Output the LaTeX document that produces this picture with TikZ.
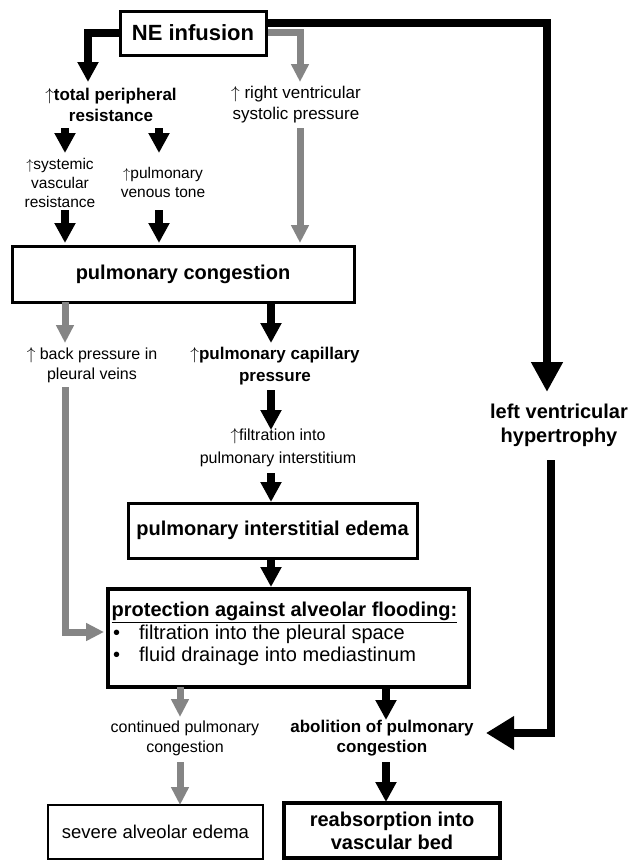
\documentclass[tikz,border=0pt]{standalone}
\usepackage{fontspec}
\setmainfont{Liberation Sans}
\usetikzlibrary{arrows.meta}
\definecolor{arrgray}{gray}{0.52}
\newcommand{\upa}{$\uparrow$}
\begin{document}
\begin{tikzpicture}[x=1pt,y=-1pt,
  box/.style={draw,line width=3pt,inner sep=0pt,align=center},
  lbl/.style={inner sep=0pt,align=center},
  blk/.style={line width=8pt,-{Triangle[width=20pt,length=20pt]}},
  big/.style={line width=8pt,-{Triangle[width=30pt,length=30pt]}},
  gry/.style={arrgray,line width=7pt,-{Triangle[width=17pt,length=18pt]}},
  fbig/.style={font=\fontsize{20}{23}\selectfont\bfseries},
  fmid/.style={font=\fontsize{17}{21}\selectfont\bfseries},
  fmidr/.style={font=\fontsize{17}{21}\selectfont},
  fsmall/.style={font=\fontsize{16}{20}\selectfont},
  ftiny/.style={font=\fontsize{15.5}{19}\selectfont},
]
\fill[white] (0,0) rectangle (640,860);
\useasboundingbox (0,0) rectangle (640,860);

% boxes
\node[box,minimum width=146pt,minimum height=44pt,font=\fontsize{22}{26}\selectfont\bfseries] (ne) at (193,33) {NE infusion};
\node[box,fbig,minimum width=342pt,minimum height=56pt] (cong) at (183,274) {pulmonary congestion};
\node[box,fbig,minimum width=289pt,minimum height=55pt] (edema) at (272.5,530.5) {pulmonary interstitial edema};
\node[box,line width=3.5pt,minimum width=361pt,minimum height=98pt] (prot) at (288.5,638) {};
\node[box,line width=1.5pt,minimum width=215pt,minimum height=54pt,font=\fontsize{18.5}{22}\selectfont] (severe) at (155.5,832) {severe alveolar edema};
\node[box,fbig,line width=4pt,minimum width=216pt,minimum height=55pt] (reab) at (392,830.5) {reabsorption into\\vascular bed};

% labels
\node[lbl,fmid] (tpr) at (111,105) {\upa total peripheral\\resistance};
\node[lbl,fmidr] (rvsp) at (296,105) {\upa\ right ventricular\\systolic pressure};
\node[lbl,ftiny] (svr) at (60,183) {\upa systemic\\vascular\\resistance};
\node[lbl,ftiny] (pvt) at (163,182) {\upa pulmonary\\venous tone};
\node[lbl,fsmall] (bp) at (92,365) {\upa\ back pressure in\\pleural veins};
\node[lbl,font=\fontsize{17}{22}\selectfont\bfseries] (pcp) at (275,366) {\upa pulmonary capillary\\pressure};
\node[lbl,font=\fontsize{16}{23}\selectfont] (filt) at (278,448) {\upa filtration into\\pulmonary interstitium};
\node[lbl,font=\fontsize{20}{24}\selectfont\bfseries] (lvh) at (559,425) {left ventricular\\hypertrophy};
\node[lbl,fbig] (ptitle) at (284.5,612) {\underline{protection against alveolar flooding:}};
\node[lbl,font=\fontsize{20}{23}\selectfont,anchor=west] (pb1) at (113,634) {\makebox[26pt][l]{•}filtration into the pleural space};
\node[lbl,font=\fontsize{20}{23}\selectfont,anchor=west] (pb2) at (113,656) {\makebox[26pt][l]{•}fluid drainage into mediastinum};
\node[lbl,fsmall] (cont) at (185,738) {continued pulmonary\\congestion};
\node[lbl,font=\fontsize{17}{20}\selectfont\bfseries] (abol) at (382,738) {abolition of pulmonary\\congestion};

% connector end points
\coordinate (c1) at (88,82);
\coordinate (c2) at (547,392);
\coordinate (c3) at (300,82);
\coordinate (a1) at (65,128); \coordinate (a2) at (65,153);
\coordinate (a3) at (159,128); \coordinate (a4) at (159,153);
\coordinate (a5) at (65,210); \coordinate (a6) at (65,243);
\coordinate (a7) at (159,210); \coordinate (a8) at (159,243);
\coordinate (a9) at (300,128); \coordinate (a10) at (300,243);
\coordinate (b1) at (65,302); \coordinate (b2) at (65,343);
\coordinate (b3) at (271,302); \coordinate (b4) at (271,343);
\coordinate (b5) at (271,390); \coordinate (b6) at (271,430);
\coordinate (b7) at (271,473); \coordinate (b8) at (271,502);
\coordinate (b9) at (271,558); \coordinate (b10) at (271,587);
\coordinate (g1) at (65,387); \coordinate (g2) at (104,632);
\coordinate (r1) at (551,460); \coordinate (r2) at (486,733);
\coordinate (d1) at (180,687); \coordinate (d2) at (180,717);
\coordinate (d3) at (386,687); \coordinate (d4) at (386,720);
\coordinate (d5) at (180,762); \coordinate (d6) at (180,805);
\coordinate (d7) at (386,762); \coordinate (d8) at (386,802);

% connectors
\draw[blk] (ne.west) -| (c1);
\draw[big] ([yshift=10pt]ne.east) -| (c2);
\draw[gry] ([yshift=0.5pt]ne.east) -| (c3);
\draw[blk] (a1) -- (a2);
\draw[blk] (a3) -- (a4);
\draw[blk] (a5) -- (a6);
\draw[blk] (a7) -- (a8);
\draw[gry] (a9) -- (a10);
\draw[gry] (b1) -- (b2);
\draw[blk] (b3) -- (b4);
\draw[blk] (b5) -- (b6);
\draw[blk] (b7) -- (b8);
\draw[blk] (b9) -- (b10);
\draw[gry] (g1) |- (g2);
\draw[big,-{Triangle[width=32pt,length=28pt]}] (r1) |- (r2);
\draw[gry] (d1) -- (d2);
\draw[blk] (d3) -- (d4);
\draw[gry] (d5) -- (d6);
\draw[blk] (d7) -- (d8);
\end{tikzpicture}
\end{document}
